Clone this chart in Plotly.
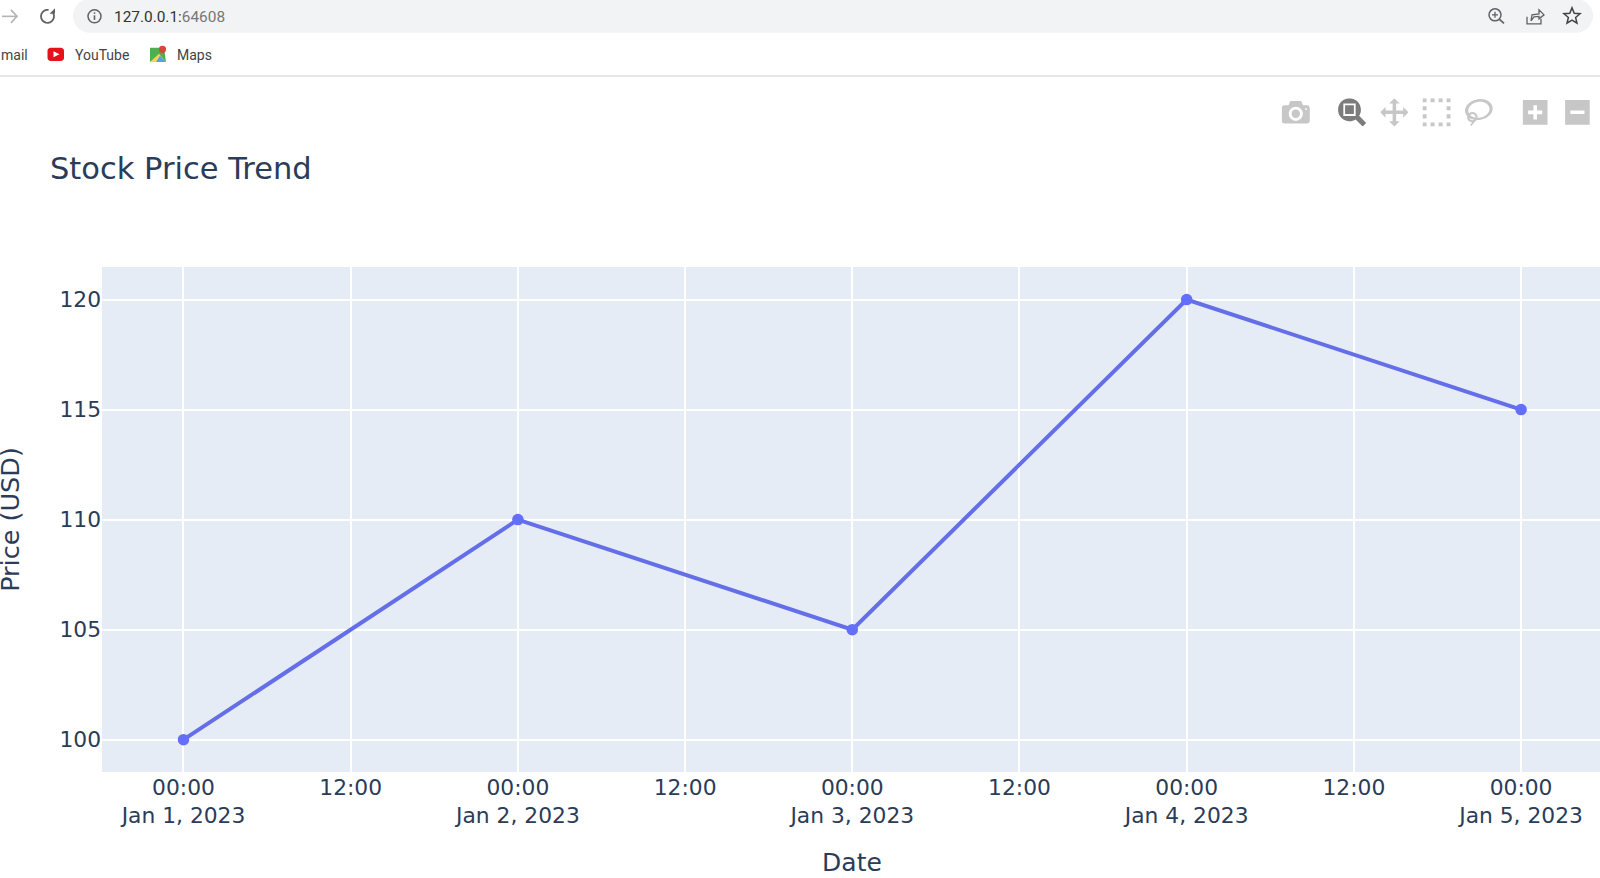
import math
import plotly.graph_objects as go

dates = ["2023-01-01", "2023-01-02", "2023-01-03", "2023-01-04", "2023-01-05"]
prices = [100, 110, 105, 120, 115]

W, H = 1600, 878
L, R, T, B = 102, 1600, 267, 771.7

def px(x):
    return (x - L) / (R - L)

def py(y):
    return (B - y) / (B - T)

def path(pts, close=False):
    s = "M " + " L ".join(f"{px(x):.5f},{py(y):.5f}" for x, y in pts)
    return s + (" Z" if close else "")

def arc(cx, cy, r, a0, a1, n=16):
    return [(cx + r * math.cos(math.radians(a0 + (a1 - a0) * i / n)),
             cy + r * math.sin(math.radians(a0 + (a1 - a0) * i / n))) for i in range(n + 1)]

def pshape(pts, close=False, line=None, width=1.5, fill=None):
    d = dict(type="path", xref="paper", yref="paper", path=path(pts, close), layer="above",
             line=dict(color=line or "rgba(0,0,0,0)", width=width if line else 0))
    if fill:
        d["fillcolor"] = fill
    return d

def cshape(cx, cy, r, line=None, width=1.5, fill=None):
    d = dict(type="circle", xref="paper", yref="paper", x0=px(cx - r), x1=px(cx + r),
             y0=py(cy + r), y1=py(cy - r), layer="above",
             line=dict(color=line or "rgba(0,0,0,0)", width=width if line else 0))
    if fill:
        d["fillcolor"] = fill
    return d

def text(x, y, s, size=14, color="#444", family="Roboto", anchor="left"):
    return dict(xref="paper", yref="paper", x=px(x), y=py(y), text=s, showarrow=False,
                xanchor=anchor, yanchor="middle", align="left", borderpad=0, borderwidth=0,
                font=dict(size=size, color=color, family=family))

shapes = []
# address bar
bar = arc(90, 16, 17, 90, 270) + arc(1576, 16, 17, -90, 90)
shapes.append(pshape(bar, True, fill="#f1f3f4"))
# toolbar divider
shapes.append(pshape([(0, 76), (1600, 76)], line="#e6e6e6", width=2))
# forward arrow
shapes.append(pshape([(2, 16.5), (17, 16.5)], line="#b5b5b5", width=1.6))
shapes.append(pshape([(11, 10), (17, 16.5), (11, 23)], line="#b5b5b5", width=1.6))
# reload
shapes.append(pshape(arc(47.5, 16.5, 6.5, -30, 280), line="#5f6368", width=1.8))
shapes.append(pshape([(55, 8.5), (55, 14), (49.5, 14)], True, fill="#5f6368"))
# info icon
shapes.append(cshape(94.5, 16.5, 6.5, line="#5f6368", width=1.5))
shapes.append(pshape([(94.5, 15.5), (94.5, 20)], line="#5f6368", width=1.6))
shapes.append(pshape([(94.5, 12.5), (94.5, 14)], line="#5f6368", width=1.6))
# zoom lens
shapes.append(cshape(1495, 15, 6, line="#5f6368", width=1.5))
shapes.append(pshape([(1499.5, 19.5), (1504, 23.5)], line="#5f6368", width=1.8))
shapes.append(pshape([(1492, 15), (1498, 15)], line="#5f6368", width=1.3))
shapes.append(pshape([(1495, 12), (1495, 18)], line="#5f6368", width=1.3))
# share
shapes.append(pshape([(1527, 17), (1527, 24), (1541, 24), (1541, 19)], line="#5f6368", width=1.3))
shapes.append(pshape([(1531, 21), (1532, 15), (1539, 14), (1539, 10), (1544, 15), (1539, 19), (1539, 16.5), (1534, 17)],
                     True, line="#5f6368", width=1.3))
# star
star = []
for i in range(10):
    r = 8.5 if i % 2 == 0 else 3.8
    a = math.radians(-90 + 36 * i)
    star.append((1572 + r * math.cos(a), 16.5 + r * math.sin(a)))
shapes.append(pshape(star, True, line="#444", width=1.5))
# YouTube icon
yt = arc(50.5, 51, 3, 180, 270, 5) + arc(61, 51, 3, 270, 360, 5) + arc(61, 58, 3, 0, 90, 5) + arc(50.5, 58, 3, 90, 180, 5)
shapes.append(pshape(yt, True, fill="#e8101a"))
shapes.append(pshape([(53.5, 51.5), (59.5, 54.5), (53.5, 57.5)], True, fill="#ffffff"))
# Maps icon
shapes.append(pshape([(150, 48), (164, 48), (166, 62), (150, 62)], True, fill="#4caf50"))
shapes.append(pshape([(150, 62), (159, 54), (166, 62)], True, fill="#fbd34d"))
shapes.append(pshape([(156, 62), (160, 56), (166, 62)], True, fill="#5b9bf0"))
shapes.append(cshape(162.5, 49.5, 3.6, fill="#d9453a"))

annotations = [
    text(114, 17, '<span style="color:#333">127.0.0.1:</span><span style="color:#777">64608</span>', size=15.4),
    text(1, 55, "mail", size=14),
    text(74.5, 55, "YouTube", size=14),
    text(176.5, 55, "Maps", size=14),
]

fig = go.Figure(
    go.Scatter(
        x=dates, y=prices, mode="lines+markers",
        line=dict(color="#646ee8", width=4),
        marker=dict(color="#636efa", size=11.5),
    )
)

DAY_MS = 86400000
JAN1_MS = 1672531200000

fig.update_layout(
    template="plotly",
    width=W, height=H,
    autosize=False,
    margin=dict(l=L, r=W - R, t=T, b=H - B, pad=0),
    font=dict(family="DejaVu Sans", color="#2b3c58"),
    title=dict(text="Stock Price Trend", x=50 / W, xanchor="left", xref="container",
               y=1 - 168 / H, yanchor="middle", font=dict(size=30.5, family="DejaVu Sans")),
    shapes=shapes,
    annotations=annotations,
    showlegend=False,
)
fig.update_xaxes(
    title=dict(text="Date", font=dict(size=25), standoff=29.5),
    tick0="2023-01-01", dtick=43200000,
    range=[JAN1_MS - 0.2437 * DAY_MS, JAN1_MS + 4.236 * DAY_MS],
    type="date",
    gridcolor="white", gridwidth=2.2, zeroline=False,
    tickfont=dict(size=21.8),
)
fig.update_yaxes(
    title=dict(text="Price (USD)", font=dict(size=25.5), standoff=37),
    range=[98.53, 121.48], dtick=5,
    gridcolor="white", gridwidth=2.2, zeroline=False,
    tickfont=dict(size=21.8),
)

post = """
document.documentElement.style.overflow='hidden';
document.body.style.margin='0';
document.body.style.overflow='hidden';
var st=document.createElement('style');
st.textContent='.js-plotly-plot .plotly .modebar{top:93px !important;right:-83px !important;transform:scale(1.76);transform-origin:top right;}'
 + '.g-ytitle{transform:translateX(5px);}'
 + '.g-xtitle{transform:translate(1px,-4px);}';
document.head.appendChild(st);
"""
fig.write_html("out.html", config=dict(displayModeBar=True, displaylogo=False), post_script=post)
